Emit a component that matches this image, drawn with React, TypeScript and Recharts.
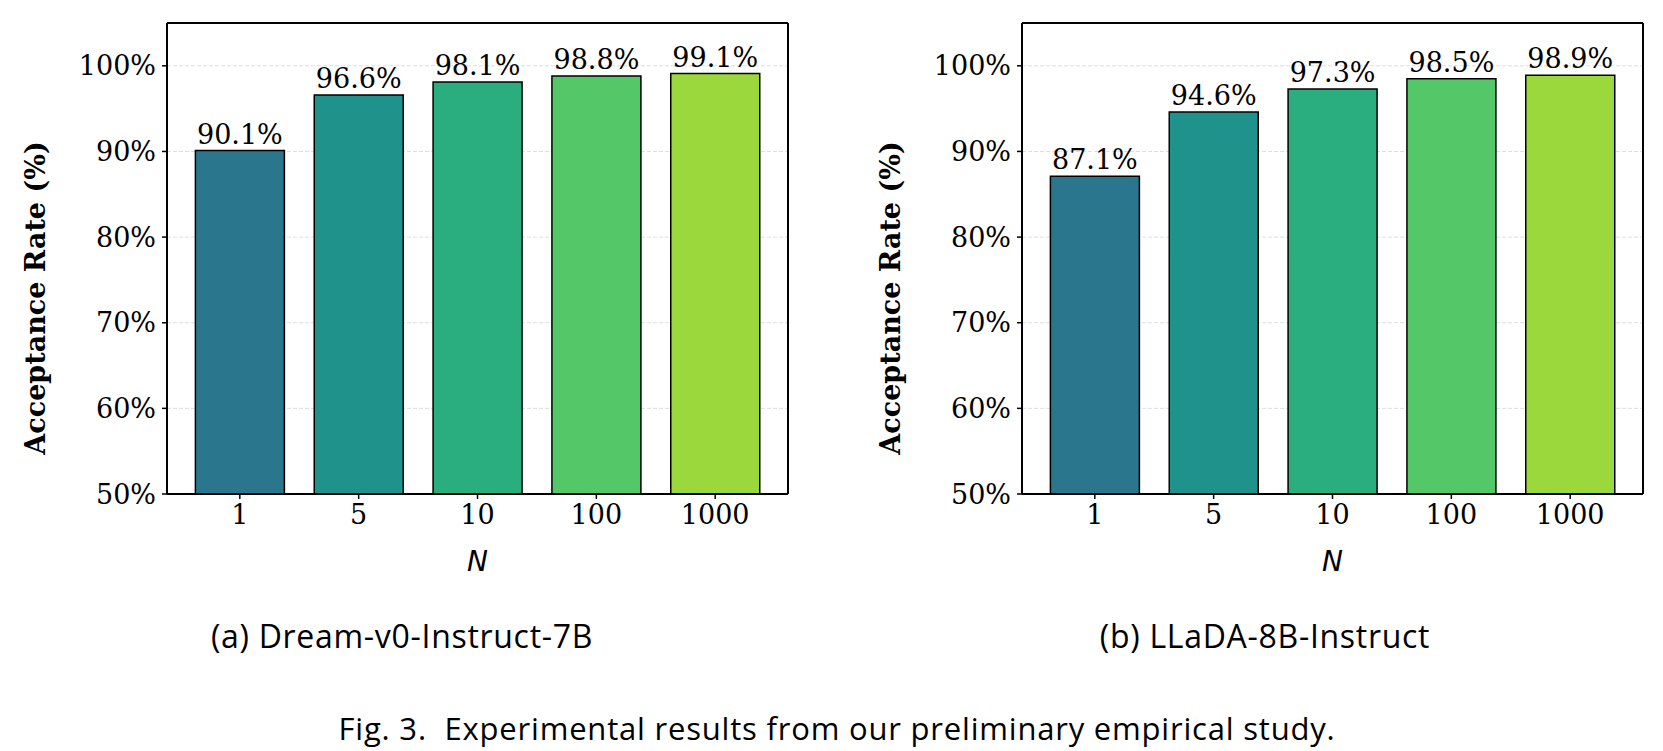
import { BarChart, Bar, XAxis, YAxis, CartesianGrid, Cell, LabelList } from 'recharts';

const nValues = ['1', '5', '10', '100', '1000'];
const dreamRates = [90.1, 96.6, 98.1, 98.8, 99.1];
const lladaRates = [87.1, 94.6, 97.3, 98.5, 98.9];
const barColors = ['#2a768c', '#1f928b', '#2aae80', '#54c768', '#9bd83c'];
const yTicks = [50, 60, 70, 80, 90, 100];

const serif = '"DejaVu Serif", serif';
const tickStyle = { fill: '#000', fontSize: 27, fontFamily: serif };

function YLabel(props: any) {
  const { viewBox } = props;
  const x = viewBox.x + 18;
  const y = 298;
  return (
    <text
      x={x}
      y={y}
      transform={`rotate(-90, ${x}, ${y})`}
      textAnchor="middle"
      dominantBaseline="central"
      fontFamily={serif}
      fontWeight="bold"
      fontSize={27}
      fill="#000"
    >
      Acceptance Rate (%)
    </text>
  );
}

function XLabel(props: any) {
  const { viewBox } = props;
  return (
    <text
      x={viewBox.x + viewBox.width / 2}
      y={viewBox.y + 77}
      textAnchor="middle"
      fontFamily='"DejaVu Sans", sans-serif'
      fontStyle="italic"
      fontSize={28}
      fill="#000"
    >
      N
    </text>
  );
}

function RateChart({ rates }: { rates: number[] }) {
  const data = nValues.map((n, i) => ({ n, rate: rates[i] }));
  return (
    <BarChart width={830} height={600} data={data} margin={{ top: 22, right: 41, bottom: 66, left: 17 }}>
      <CartesianGrid vertical={false} stroke="#dedede" strokeDasharray="4 2" yAxisId="left" xAxisId="bottom" horizontalValues={yTicks} />
      <XAxis
        dataKey="n"
        xAxisId="bottom"
        height={40}
        padding={{ left: 13.4, right: 13.4 }}
        tick={tickStyle}
        tickSize={5}
        tickMargin={6}
        axisLine={{ stroke: '#000', strokeWidth: 2 }}
        tickLine={{ stroke: '#000', strokeWidth: 1.5 }}
        label={{ content: XLabel }}
      />
      <XAxis dataKey="n" xAxisId="top" orientation="top" height={1} tick={false} tickLine={false} axisLine={{ stroke: '#000', strokeWidth: 2 }} />
      <YAxis
        yAxisId="left"
        width={150}
        domain={[50, 105]}
        ticks={yTicks}
        allowDataOverflow
        tickFormatter={(v) => `${v}%`}
        tick={tickStyle}
        tickSize={5}
        tickMargin={6}
        axisLine={{ stroke: '#000', strokeWidth: 2 }}
        tickLine={{ stroke: '#000', strokeWidth: 1.5 }}
        label={{ content: YLabel }}
      />
      <YAxis yAxisId="right" orientation="right" width={1} domain={[50, 105]} tick={false} tickLine={false} axisLine={{ stroke: '#000', strokeWidth: 2 }} />
      <Bar dataKey="rate" xAxisId="bottom" yAxisId="left" barSize={89} stroke="#000" strokeWidth={1.5} isAnimationActive={false}>
        {data.map((d, i) => (
          <Cell key={d.n} fill={barColors[i]} />
        ))}
        <LabelList
          dataKey="rate"
          position="top"
          offset={7}
          formatter={(v: any) => `${v}%`}
          style={{ fill: '#000', fontSize: 27, fontFamily: serif }}
        />
      </Bar>
    </BarChart>
  );
}

const captionFont = '"Open Sans", sans-serif';

export default function App() {
  return (
    <div style={{ position: 'absolute', left: 0, top: 0, width: 1663, height: 751, background: '#fff', overflow: 'hidden' }}>
      <div style={{ position: 'absolute', left: 0, top: 0 }}>
        <RateChart rates={dreamRates} />
      </div>
      <div style={{ position: 'absolute', left: 855, top: 0 }}>
        <RateChart rates={lladaRates} />
      </div>
      <svg width={1663} height={751} style={{ position: 'absolute', left: 0, top: 0, pointerEvents: 'none' }}>
        <text x={402} y={648} textAnchor="middle" fontFamily={captionFont} fontSize={32} letterSpacing={0.7} fill="#000">
          (a) Dream-v0-Instruct-7B
        </text>
        <text x={1265} y={648} textAnchor="middle" fontFamily={captionFont} fontSize={32} letterSpacing={0.7} fill="#000">
          (b) LLaDA-8B-Instruct
        </text>
        <text x={837} y={740} textAnchor="middle" fontFamily={captionFont} fontSize={31} letterSpacing={0.8} fill="#000" style={{ whiteSpace: 'pre' }}>
          {'Fig. 3.  Experimental results from our preliminary empirical study.'}
        </text>
      </svg>
    </div>
  );
}
